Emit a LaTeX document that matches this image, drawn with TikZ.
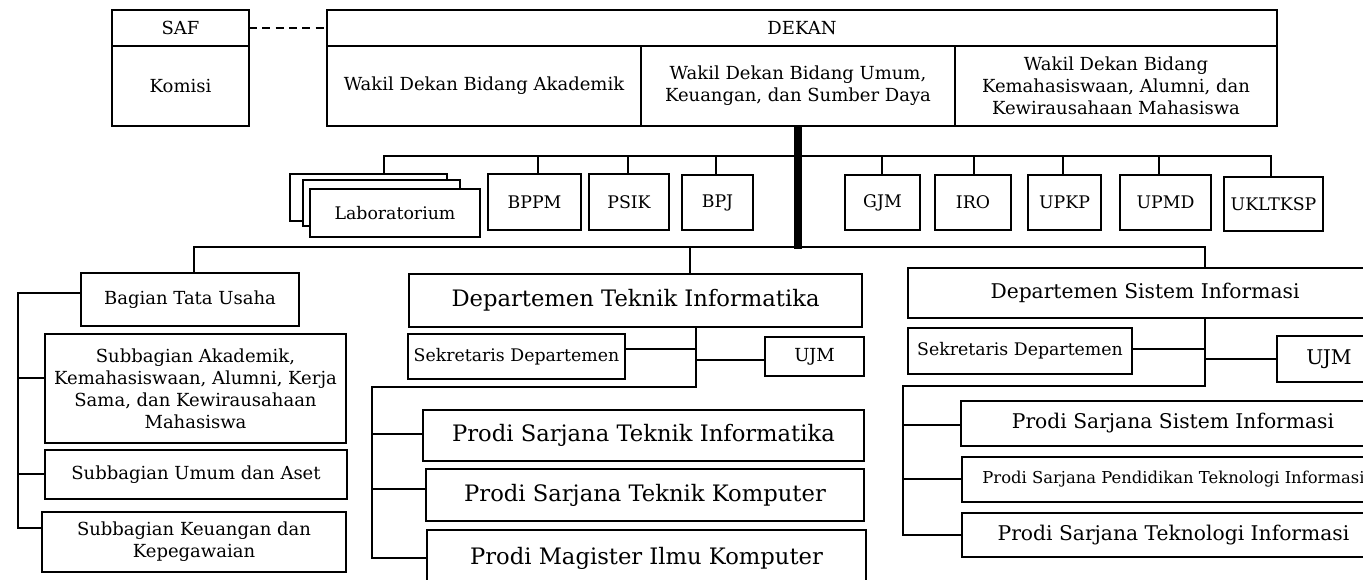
\documentclass[tikz,border=0pt]{standalone}
\usepackage{fontspec}
\setmainfont{DejaVu Serif}
\usetikzlibrary{calc}

% \bx[style]{name}{x1}{y1}{x2}{y2}{text}: a box given by its corners
\newcommand\bx[7][]{%
  \pgfmathsetmacro\bxw{(#5-#3)*0.75}%
  \pgfmathsetmacro\bxh{(#6-#4)*0.75}%
  \node[box,#1,minimum width=\bxw pt,minimum height=\bxh pt] (#2)
    at ({(#3+#5)/2},{(#4+#6)/2}) {#7};%
}

\tikzset{
  box/.style={draw, line width=2.1pt, fill=white, inner sep=0pt, outer sep=0pt,
    align=center, font=\fontsize{13.5}{16.5}\selectfont},
  ln/.style={line width=1.7pt},
  spine/.style={line width=5.5pt},
  fmid/.style={font=\fontsize{13}{16}\selectfont},
  fbig/.style={font=\fontsize{17}{20}\selectfont},
  frt/.style={font=\fontsize{15.2}{18}\selectfont},
  fsm/.style={font=\fontsize{12.3}{15}\selectfont},
}

\begin{document}
\begin{tikzpicture}[x=0.75pt, y=-0.75pt]
\useasboundingbox (0,0) rectangle (1363,579);
\clip (0,0) rectangle (1363,579);
\fill[white] (0,0) rectangle (1363,579);

% ---------- leadership ----------
\bx{saf}{112}{10}{249}{46}{SAF}
\bx{kom}{112}{46}{249}{126}{Komisi}
\bx{dekan}{327}{10}{1277}{46}{DEKAN}
\bx{wAk}{327}{46}{641}{126}{Wakil Dekan Bidang Akademik}
\bx{wUm}{641}{46}{955}{126}{Wakil Dekan Bidang Umum,\\Keuangan, dan Sumber Daya}
\bx{wKm}{955}{46}{1277}{126}{Wakil Dekan Bidang\\Kemahasiswaan, Alumni, dan\\Kewirausahaan Mahasiswa}
\draw[ln, dash pattern=on 6pt off 4pt] (saf.east) -- (dekan.west |- saf.east);

% ---------- units ----------
\bx[fmid]{labA}{290}{174}{447}{221}{}
\bx[fmid]{labB}{303}{180}{460}{226}{}
\bx[fmid]{labC}{310}{189}{480}{237}{Laboratorium}
\bx[fmid]{bppm}{488}{174}{581}{230}{BPPM}
\bx[fmid]{psik}{589}{174}{669}{230}{PSIK}
\bx[fmid]{bpj}{682}{175}{753}{230}{BPJ}
\bx[fmid]{gjm}{845}{175}{920}{230}{GJM}
\bx[fmid]{iro}{935}{175}{1011}{230}{IRO}
\bx[fmid]{upkp}{1028}{175}{1101}{230}{UPKP}
\bx[fmid]{upmd}{1120}{175}{1211}{230}{UPMD}
\bx[fmid]{ukl}{1224}{177}{1323}{231}{UKLTKSP}

\coordinate (ubL) at (384,156);
\coordinate (ubR) at (1271,156);
\draw[ln] (labA.north -| ubL) -- (ubL) -- (ubR) -- (ukl.north -| ubR);
\draw[ln] (bppm.north -| 538,0) -- (538,156);
\draw[ln] (psik.north -| 628,0) -- (628,156);
\draw[ln] (bpj.north -| 716,0) -- (716,156);
\draw[ln] (gjm.north -| 882,0) -- (882,156);
\draw[ln] (iro.north -| 974,0) -- (974,156);
\draw[ln] (upkp.north -| 1063,0) -- (1063,156);
\draw[ln] (upmd.north -| 1159,0) -- (1159,156);

% ---------- administration ----------
\bx{btu}{81}{273}{299}{326}{Bagian Tata Usaha}
\bx{sbA}{45}{334}{346}{443}{Subbagian Akademik,\\Kemahasiswaan, Alumni, Kerja\\Sama, dan Kewirausahaan\\Mahasiswa}
\bx{sbU}{45}{450}{347}{499}{Subbagian Umum dan Aset}
\bx{sbK}{42}{512}{346}{572}{Subbagian Keuangan dan\\Kepegawaian}

\coordinate (lt1) at (18,293);
\coordinate (lt2) at (18,528);
\draw[ln] (btu.west |- lt1) -- (lt1) -- (lt2) -- (sbK.west |- lt2);
\draw[ln] (18,378) -- (sbA.west |- 0,378);
\draw[ln] (18,474) -- (sbU.west |- 0,474);

% ---------- Departemen Teknik Informatika ----------
\bx[fbig]{dti}{409}{274}{862}{327}{Departemen Teknik Informatika}
\bx[fmid]{sek1}{408}{334}{625}{379}{Sekretaris Departemen}
\bx{ujm1}{765}{337}{864}{376}{UJM}
\bx[fbig]{pti}{423}{410}{864}{461}{Prodi Sarjana Teknik Informatika}
\bx[fbig]{ptk}{426}{469}{864}{521}{Prodi Sarjana Teknik Komputer}
\bx[fbig]{pmik}{427}{530}{866}{586}{Prodi Magister Ilmu Komputer}

\coordinate (mt1) at (696,387);
\coordinate (mt2) at (372,387);
\coordinate (mt3) at (372,558);
\draw[ln] (dti.south -| mt1) -- (mt1) -- (mt2) -- (mt3) -- (pmik.west |- mt3);
\draw[ln] (sek1.east |- 0,349) -- (696,349);
\draw[ln] (696,360) -- (ujm1.west |- 0,360);
\draw[ln] (372,434) -- (pti.west |- 0,434);
\draw[ln] (372,489) -- (ptk.west |- 0,489);

% ---------- Departemen Sistem Informasi ----------
\bx[frt]{dsi}{908}{268}{1382}{318}{Departemen Sistem Informasi}
\bx[fmid]{sek2}{908}{328}{1132}{374}{Sekretaris Departemen}
\bx[frt]{ujm2}{1277}{336}{1381}{382}{UJM}
\bx[frt]{psi}{961}{401}{1385}{446}{Prodi Sarjana Sistem Informasi}
\bx[fsm]{ppti}{962}{457}{1385}{502}{Prodi Sarjana Pendidikan Teknologi Informasi}
\bx[frt]{ptki}{962}{513}{1385}{557}{Prodi Sarjana Teknologi Informasi}

\coordinate (rt1) at (1205,386);
\coordinate (rt2) at (903,386);
\coordinate (rt3) at (903,535);
\draw[ln] (dsi.south -| rt1) -- (rt1) -- (rt2) -- (rt3) -- (ptki.west |- rt3);
\draw[ln] (sek2.east |- 0,349) -- (1205,349);
\draw[ln] (1205,359) -- (ujm2.west |- 0,359);
\draw[ln] (903,425) -- (psi.west |- 0,425);
\draw[ln] (903,479) -- (ppti.west |- 0,479);

% ---------- lower distribution line and spine ----------
\coordinate (lbL) at (194,247);
\coordinate (lbR) at (1205,247);
\draw[ln] (btu.north -| lbL) -- (lbL) -- (lbR) -- (dsi.north -| lbR);
\draw[ln] (690,247) -- (dti.north -| 690,0);
\draw[spine] (wUm.south) -- (wUm.south |- 0,249);
\end{tikzpicture}
\end{document}
